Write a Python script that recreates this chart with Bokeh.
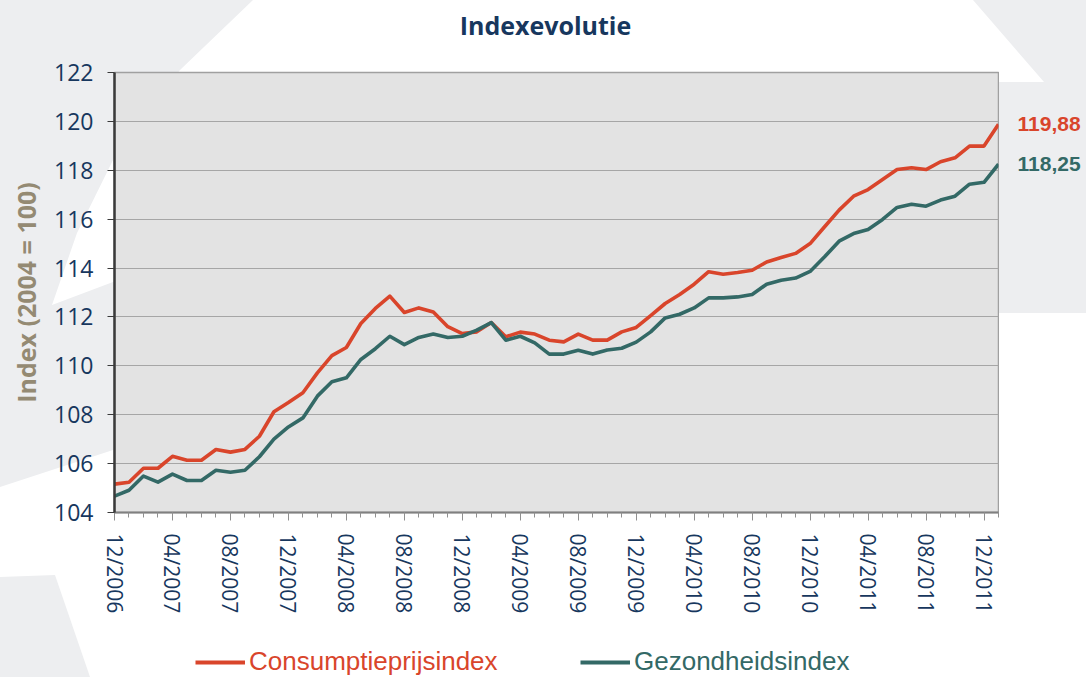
from urllib.parse import quote
from bokeh.plotting import figure
from bokeh.layouts import column, row
from bokeh.models import Range1d, FixedTicker, Legend, LegendItem, Label
from bokeh.embed import file_html
from bokeh.resources import INLINE

# ---------------- data ----------------
months = [
    "12/2006",
    "01/2007", "02/2007", "03/2007", "04/2007", "05/2007", "06/2007",
    "07/2007", "08/2007", "09/2007", "10/2007", "11/2007", "12/2007",
    "01/2008", "02/2008", "03/2008", "04/2008", "05/2008", "06/2008",
    "07/2008", "08/2008", "09/2008", "10/2008", "11/2008", "12/2008",
    "01/2009", "02/2009", "03/2009", "04/2009", "05/2009", "06/2009",
    "07/2009", "08/2009", "09/2009", "10/2009", "11/2009", "12/2009",
    "01/2010", "02/2010", "03/2010", "04/2010", "05/2010", "06/2010",
    "07/2010", "08/2010", "09/2010", "10/2010", "11/2010", "12/2010",
    "01/2011", "02/2011", "03/2011", "04/2011", "05/2011", "06/2011",
    "07/2011", "08/2011", "09/2011", "10/2011", "11/2011", "12/2011",
    "01/2012",
]

consumptieprijsindex = [
    105.16, 105.24, 105.81, 105.81, 106.30, 106.14, 106.14, 106.58, 106.47, 106.58,
    107.12, 108.12, 108.50, 108.90, 109.71, 110.42, 110.75, 111.73, 112.35, 112.85,
    112.18, 112.37, 112.20, 111.60, 111.32, 111.39, 111.77, 111.19, 111.38, 111.30,
    111.05, 110.98, 111.30, 111.05, 111.05, 111.39, 111.57, 112.05, 112.55, 112.92,
    113.34, 113.85, 113.75, 113.82, 113.91, 114.25, 114.43, 114.60, 115.00, 115.69,
    116.37, 116.94, 117.21, 117.62, 118.03, 118.10, 118.03, 118.35, 118.51, 118.99,
    118.99, 119.88,
]

gezondheidsindex = [
    104.67, 104.91, 105.49, 105.24, 105.57, 105.31, 105.31, 105.73, 105.65, 105.73,
    106.28, 107.00, 107.50, 107.87, 108.76, 109.35, 109.51, 110.26, 110.70, 111.21,
    110.87, 111.16, 111.30, 111.16, 111.21, 111.46, 111.77, 111.05, 111.21, 110.94,
    110.48, 110.48, 110.64, 110.48, 110.65, 110.72, 110.97, 111.39, 111.96, 112.11,
    112.37, 112.78, 112.78, 112.82, 112.92, 113.34, 113.50, 113.59, 113.86, 114.46,
    115.10, 115.41, 115.58, 115.99, 116.48, 116.61, 116.53, 116.78, 116.94, 117.43,
    117.51, 118.25,
]

series_names = ["Consumptieprijsindex", "Gezondheidsindex"]
end_labels = ["119,88", "118,25"]
y_ticks = [104, 106, 108, 110, 112, 114, 116, 118, 120, 122]
x_tick_step = 4
title_text = "Indexevolutie"
y_title = "Index (2004 = 100)"

# ---------------- style ----------------
RED = "#D9452B"
GREEN = "#336966"
NAVY = "#17375E"
TAN = "#948A73"
FONT = "Open Sans"
W, H = 1086, 677
TITLE_H, LEGEND_H = 48, 37
MAIN_W = 999
MAIN_H = H - TITLE_H - LEGEND_H
TOP_B, BOT_B = 24, 128

idx = list(range(len(months)))


def bare(width, height, **kw):
    f = figure(width=width, height=height, output_backend="svg", toolbar_location=None,
               x_axis_location=None, y_axis_location=None,
               min_border_left=0, min_border_right=0, **kw)
    f.border_fill_color = None
    f.background_fill_color = None
    f.outline_line_color = None
    f.grid.grid_line_color = None
    return f


# ---------- title strip ----------
t = bare(W, TITLE_H, x_range=Range1d(0, W), y_range=Range1d(TITLE_H, 0),
         min_border_top=0, min_border_bottom=0)
t.add_layout(Label(x=545, y=24, text=title_text, text_align="center", text_baseline="middle",
                   text_font=FONT, text_font_style="bold", text_font_size="25px",
                   text_color=NAVY))

# ---------- main chart ----------
p = figure(width=MAIN_W, height=MAIN_H, output_backend="svg", toolbar_location=None,
           x_range=Range1d(0, len(months) - 1), y_range=Range1d(y_ticks[0], y_ticks[-1]),
           min_border_left=114, min_border_right=1, min_border_top=TOP_B,
           min_border_bottom=BOT_B)
p.border_fill_color = None
p.background_fill_color = "#E3E3E3"
p.outline_line_color = "#A0A0A0"
p.outline_line_width = 1.5
p.xgrid.grid_line_color = None
p.ygrid.grid_line_color = "#A6A6A6"
p.ygrid.grid_line_width = 1.2

ya = p.left[0]
ya.ticker = FixedTicker(ticks=y_ticks)
ya.minor_tick_line_color = None
ya.major_tick_out = 7
ya.major_tick_in = 0
ya.axis_line_color = "#3A3A3A"
ya.axis_line_width = 2.5
ya.major_tick_line_color = "#3A3A3A"
ya.major_tick_line_width = 1.2
ya.major_label_text_font = FONT
ya.major_label_text_font_size = "23px"
ya.major_label_text_color = NAVY
ya.major_label_standoff = 14
ya.axis_label = y_title
ya.axis_label_text_font = FONT
ya.axis_label_text_font_size = "25px"
ya.axis_label_text_font_style = "bold"
ya.axis_label_text_color = TAN
ya.axis_label_standoff = 8

xa = p.below[0]
major_x = idx[::x_tick_step]
xa.ticker = FixedTicker(ticks=major_x, minor_ticks=idx)
xa.major_label_overrides = {i: months[i] for i in major_x}
xa.major_label_orientation = "vertical"
xa.major_label_text_font = FONT
xa.major_label_text_font_size = "21px"
xa.major_label_text_color = NAVY
xa.major_label_standoff = 13
xa.axis_line_color = "#808080"
xa.axis_line_width = 2
xa.major_tick_out = 8
xa.major_tick_in = 0
xa.minor_tick_out = 5
xa.minor_tick_in = 0
xa.major_tick_line_color = "#909090"
xa.minor_tick_line_color = "#909090"

r1 = p.line(idx, consumptieprijsindex, line_color=RED, line_width=3.6, line_join="round")
r2 = p.line(idx, gezondheidsindex, line_color=GREEN, line_width=3.6, line_join="round")

# ---------- end-value strip (shares the y scale) ----------
s = bare(W - MAIN_W, MAIN_H, x_range=Range1d(0, 1), y_range=p.y_range,
         min_border_top=TOP_B, min_border_bottom=BOT_B)
for vals, txt, col in [(consumptieprijsindex, end_labels[0], RED),
                       (gezondheidsindex, end_labels[1], GREEN)]:
    s.add_layout(Label(x=0, y=vals[-1], text=txt, x_offset=18, text_align="left",
                       text_baseline="middle", text_font="Liberation Sans",
                       text_font_style="bold", text_font_size="21px", text_color=col))

# ---------- legend strip ----------
lg = bare(W, LEGEND_H, x_range=Range1d(0, 1), y_range=Range1d(0, 1),
          min_border_top=0, min_border_bottom=0)
for name, col, xloc in [(series_names[0], RED, 195), (series_names[1], GREEN, 580)]:
    # swatch-only renderer, kept outside the visible range of this strip
    swatch = lg.line([-2, -1], [-2, -2], line_color=col, line_width=4)
    lg.add_layout(Legend(items=[LegendItem(label=name, renderers=[swatch])], location=(xloc, 0),
                         orientation="horizontal", background_fill_alpha=0, border_line_alpha=0,
                         padding=0, margin=0, spacing=0, glyph_width=50, glyph_height=20,
                         label_standoff=4, label_height=20,
                         label_text_font="Liberation Sans", label_text_font_size="26px",
                         label_text_color=col))

layout = column(t, row(p, s, spacing=0), lg, spacing=0)

# decorative slide background behind the transparent canvases
svg = ("<svg xmlns='http://www.w3.org/2000/svg' width='1086' height='677'>"
       "<g fill='rgb(237,238,240)'>"
       "<polygon points='0,0 253,0 180,70 113,160 77,233 52,305 113,282 400,228 400,420 113,450 0,487'/>"
       "<polygon points='0,577 55,575 90,677 0,677'/>"
       "<polygon points='973,0 1086,0 1086,313 998,313 998,82 1044,82'/>"
       "</g></svg>")
layout.styles = {"background-image": 'url("data:image/svg+xml;utf8,' + quote(svg) + '")',
                 "background-repeat": "no-repeat"}

open("out.html", "w").write(file_html(layout, INLINE))
